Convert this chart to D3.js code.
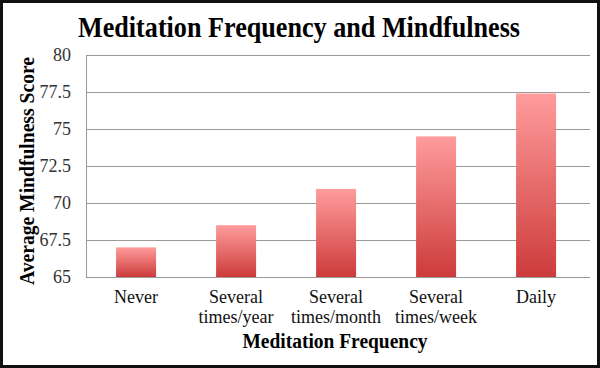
<!DOCTYPE html>
<html>
<head>
<meta charset="utf-8">
<script src="https://cdn.jsdelivr.net/npm/d3@7"></script>
<style>
  body { margin: 0; background: #fff; }
  svg text { font-family: "Liberation Serif", "DejaVu Serif", serif !important; }
</style>
</head>
<body>
<div id="chart"></div>
<script>
// Data
var categories = ["Never", "Several times/year", "Several times/month", "Several times/week", "Daily"];
var labelLines = [["Never"], ["Several", "times/year"], ["Several", "times/month"], ["Several", "times/week"], ["Daily"]];
var scores = [67.0, 68.5, 70.95, 74.5, 77.4];
var yTicks = [65, 67.5, 70, 72.5, 75, 77.5, 80];

var svgWidth = 600;
var svgHeight = 368;

var margin = { top: 55, right: 10, bottom: 91, left: 86 };
var chartWidth = svgWidth - margin.left - margin.right;
var chartHeight = svgHeight - margin.top - margin.bottom;

var svg = d3.select("#chart")
  .append("svg")
  .attr("width", svgWidth)
  .attr("height", svgHeight);

// bar gradient, light pink at top to red at bottom
var grad = svg.append("defs").append("linearGradient")
  .attr("id", "barGrad")
  .attr("x1", 0).attr("y1", 0).attr("x2", 0).attr("y2", 1);
grad.append("stop").attr("offset", "0%").attr("stop-color", "#ff9c9c");
grad.append("stop").attr("offset", "100%").attr("stop-color", "#cd3b3b");

// outer frame
svg.append("rect")
  .attr("x", 1.5).attr("y", 1.5)
  .attr("width", svgWidth - 3).attr("height", svgHeight - 3)
  .attr("fill", "none")
  .attr("stroke", "#111")
  .attr("stroke-width", 3);

var chartGroup = svg.append("g")
  .attr("transform", `translate(${margin.left}, ${margin.top})`);

var xScale = d3.scaleBand()
  .domain(categories)
  .range([0, chartWidth])
  .paddingInner(0.6)
  .paddingOuter(0.32)
  .align(0.47);

var yScale = d3.scaleLinear()
  .domain([65, 80])
  .range([chartHeight, 0]);

// gridlines
chartGroup.append("g")
  .selectAll("line")
  .data(yTicks)
  .enter()
  .append("line")
  .attr("x1", 0)
  .attr("x2", chartWidth)
  .attr("y1", d => Math.round(yScale(d)) + 0.5)
  .attr("y2", d => Math.round(yScale(d)) + 0.5)
  .attr("stroke", "#9a9a9a")
  .attr("stroke-width", 1);

// left axis
var leftAxis = d3.axisLeft(yScale)
  .tickValues(yTicks)
  .tickSize(0)
  .tickPadding(15)
  .tickFormat(d => d);
var yAxisG = chartGroup.append("g").call(leftAxis);
yAxisG.select(".domain").attr("stroke", "#9a9a9a");
yAxisG.selectAll("text")
  .style("font-size", "18px")
  .attr("fill", "#333");

// bars
chartGroup.selectAll(".bar")
  .data(scores)
  .enter()
  .append("rect")
  .attr("class", "bar")
  .attr("x", (d, i) => xScale(categories[i]))
  .attr("width", xScale.bandwidth())
  .attr("y", d => yScale(d))
  .attr("height", d => chartHeight - yScale(d))
  .attr("fill", "url(#barGrad)");

// category labels
var catLabels = chartGroup.selectAll(".cat")
  .data(categories)
  .enter()
  .append("text")
  .attr("class", "cat")
  .attr("text-anchor", "middle")
  .style("font-size", "18px")
  .attr("fill", "#111")
  .attr("transform", d => `translate(${xScale(d) + xScale.bandwidth() / 2}, ${chartHeight + 26})`);
catLabels.each(function(d, i) {
  var t = d3.select(this);
  labelLines[i].forEach(function(line, j) {
    t.append("tspan").attr("x", 0).attr("dy", j === 0 ? 0 : 20).text(line);
  });
});

// title
svg.append("text")
  .attr("x", 299)
  .attr("y", 37)
  .attr("text-anchor", "middle")
  .attr("textLength", 442)
  .attr("lengthAdjust", "spacingAndGlyphs")
  .style("font-size", "29px")
  .attr("font-weight", "bold")
  .attr("fill", "#000")
  .text("Meditation Frequency and Mindfulness");

// x axis title
svg.append("text")
  .attr("x", 335)
  .attr("y", 348)
  .attr("text-anchor", "middle")
  .attr("textLength", 185)
  .attr("lengthAdjust", "spacingAndGlyphs")
  .style("font-size", "20px")
  .attr("font-weight", "bold")
  .attr("fill", "#000")
  .text("Meditation Frequency");

// y axis title
svg.append("text")
  .attr("transform", `translate(34, 171) rotate(-90)`)
  .attr("text-anchor", "middle")
  .attr("textLength", 228)
  .attr("lengthAdjust", "spacingAndGlyphs")
  .style("font-size", "20px")
  .attr("font-weight", "bold")
  .attr("fill", "#000")
  .text("Average Mindfulness Score");
</script>
</body>
</html>
